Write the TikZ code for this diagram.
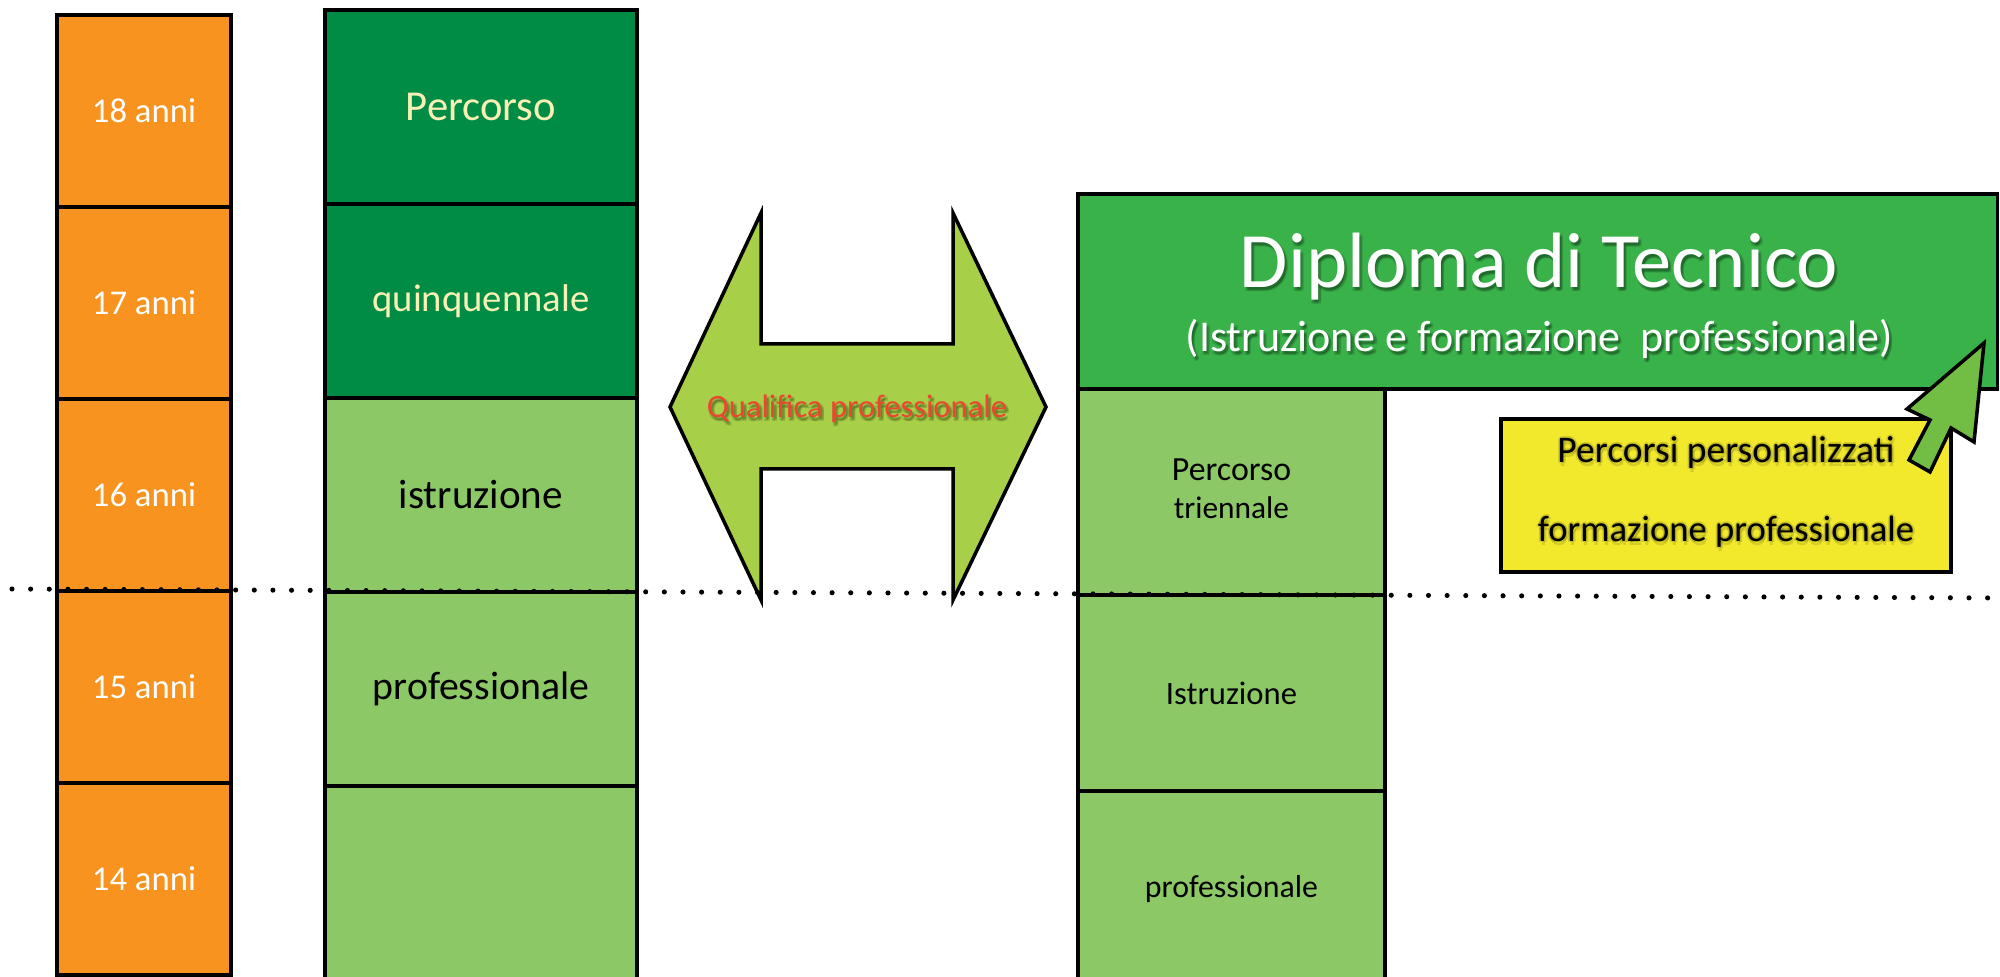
\documentclass[tikz,border=0pt]{standalone}
\usepackage{fontspec}
\setmainfont{Carlito}
\usepackage{graphicx}
\definecolor{agecol}{HTML}{F7931E}
\definecolor{darkgr}{HTML}{008C44}
\definecolor{lightgr}{HTML}{8CC866}
\definecolor{dipgr}{HTML}{39B24A}
\definecolor{yelcol}{HTML}{F2E92D}
\definecolor{dblgr}{HTML}{A7CF47}
\definecolor{arrgr}{HTML}{72BE44}
\definecolor{qualred}{HTML}{E9472F}
\definecolor{paleyel}{HTML}{F8F0B5}
\newcommand\fw[2]{\resizebox{#1}{!}{#2}}
\newcommand\dropshadowtext[5]{%
  \foreach \dx/\dy [count=\k] in {0.5/-0.7,0.9/-1.1,0.2/-1.0,0.9/-0.5}
    \node[txt, text=black, opacity=0.12, xshift=\dx pt, yshift=\dy pt] (#1-s\k) at (#2) {\fw{#4}{#5}};
  \node[txt, text=#3] (#1) at (#2) {\fw{#4}{#5}};
}
\newcommand\glowtext[5]{%
  \foreach \dx/\dy [count=\k] in {0.7/-0.2,-0.5/-0.2,0.2/0.6,0.3/-0.9,-0.3/0.4}
    \node[txt, text=black, opacity=0.12, xshift=\dx pt, yshift=\dy pt] (#1-g\k) at (#2) {\fw{#4}{#5}};
  \node[txt, text=#3] (#1) at (#2) {\fw{#4}{#5}};
}
\begin{document}
\begin{tikzpicture}[x=0.01cm,y=-0.01cm,
  cell/.style={draw=black, line width=1pt, inner sep=0pt, rectangle},
  agebox/.style={cell, fill=agecol, text=white, minimum width=1.74cm, minimum height=1.92cm},
  quinbox/.style={cell, minimum width=3.12cm, minimum height=1.94cm},
  tribox/.style={cell, fill=lightgr, minimum width=3.07cm},
  txt/.style={anchor=base, inner sep=0pt},
  shapeline/.style={draw=black, line width=1pt, line join=miter},
  dotline/.style={line width=1.45pt, dash pattern=on 0pt off 5.3pt, line cap=round}]
\clip (0,0) rectangle (2000,977);
\fill[white] (0,0) rectangle (2000,977);

% age column
\node[agebox] (a18) at (144,111) {\fw{1.04cm}{18 anni}};
\node[agebox] (a17) at (144,303) {\fw{1.04cm}{17 anni}};
\node[agebox] (a16) at (144,495) {\fw{1.04cm}{16 anni}};
\node[agebox] (a15) at (144,687) {\fw{1.04cm}{15 anni}};
\node[agebox] (a14) at (144,879) {\fw{1.04cm}{14 anni}};

% five-year column
\node[quinbox, fill=darkgr, text=paleyel] (q1) at (481,107) {\fw{1.50cm}{Percorso}};
\node[quinbox, fill=darkgr, text=paleyel] (q2) at (481,301) {\fw{2.17cm}{quinquennale}};
\node[quinbox, fill=lightgr, text=black] (q3) at (481,495) {\fw{1.64cm}{istruzione}};
\node[quinbox, fill=lightgr, text=black] (q4) at (481,689) {\fw{2.16cm}{professionale}};
\node[quinbox, fill=lightgr] (q5) at (481,883) {};

% three-year column
\node[tribox, minimum height=2.06cm] (t1) at (1231.5,492) {};
\node[txt] (t1a) at (1231.5,481) {\fw{1.19cm}{Percorso}};
\node[txt] (t1b) at (1231.5,519) {\fw{1.15cm}{triennale}};
\node[tribox, minimum height=1.96cm] (t2) at (1231.5,693) {\fw{1.31cm}{Istruzione}};
\node[tribox, minimum height=1.96cm] (t3) at (1231.5,889) {\fw{1.73cm}{professionale}};

% diploma box
\node[cell, fill=dipgr, minimum width=9.19cm, minimum height=1.95cm] (dip) at (1537.5,291.5) {};
\dropshadowtext{dipA}{1539,288}{white}{5.98cm}{Diploma di Tecnico}
\dropshadowtext{dipB}{1539.5,352}{white}{7.07cm}{(Istruzione e formazione\ \ professionale)}

% yellow box
\node[cell, fill=yelcol, minimum width=4.50cm, minimum height=1.53cm] (yel) at (1726,495.5) {};
\glowtext{yelA}{1726,463}{black}{3.37cm}{Percorsi personalizzati}
\glowtext{yelB}{1726,542}{black}{3.76cm}{formazione professionale}

% double arrow
\draw[shapeline, fill=dblgr] (670,407) -- (761,213) -- (761,344) -- (953,344) -- (953,213)
  -- (1046,407) -- (953,600) -- (953,469) -- (761,469) -- (761,600) -- cycle;
\dropshadowtext{qual}{857,418}{qualred}{3.00cm}{Qualifica professionale}

% green arrow from yellow box to diploma
\draw[shapeline, fill=arrgr] (1984,343) -- (1974,442) -- (1951,428) -- (1930,472)
  -- (1909,460) -- (1930,420) -- (1907,409) -- cycle;

% dotted line
\coordinate (dl) at (12,589);
\coordinate (dr) at (1998,598);
\draw[dotline] (dl) -- (dr);
\end{tikzpicture}
\end{document}
